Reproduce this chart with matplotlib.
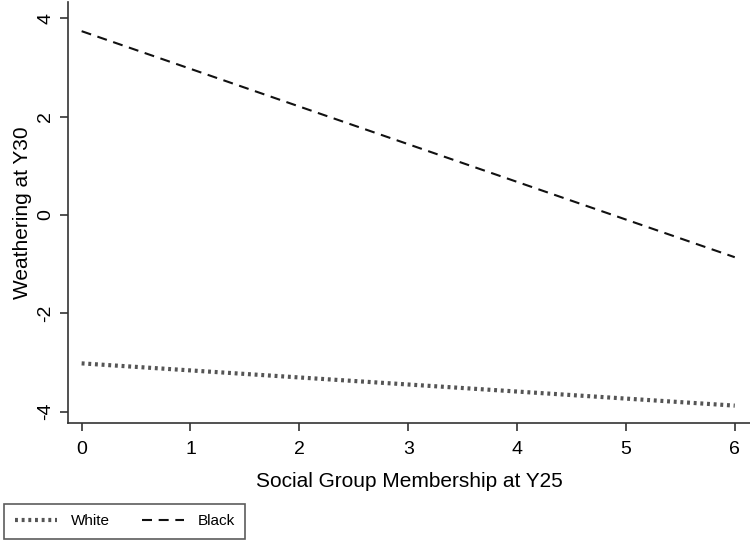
import matplotlib
matplotlib.use("Agg")
import matplotlib.pyplot as plt
import numpy as np

plt.rcParams['font.family'] = ['Liberation Sans', 'DejaVu Sans']

# Data
social_group = [0, 6]
white_values = [-3.02, -3.88]
black_values = [3.74, -0.86]
x_ticks = [0, 1, 2, 3, 4, 5, 6]
y_ticks = [-4, -2, 0, 2, 4]
x_label = "Social Group Membership at Y25"
y_label = "Weathering at Y30"
series_names = ["White", "Black"]

fig = plt.figure(figsize=(7.5, 5.43), dpi=100)
ax = fig.add_axes([0.091, 0.2204, 0.909, 0.7756])

ax.plot(social_group, white_values, color='#555555', lw=3.0,
        linestyle=(0, (0.7, 0.9)), label=series_names[0],
        dash_capstyle='butt')
ax.plot(social_group, black_values, color='#111111', lw=1.5,
        linestyle=(0, (4.8, 3.2)), label=series_names[1], dash_capstyle='butt')

ax.set_xlim(-0.123, 6.14)
ax.set_ylim(-4.24, 4.33)
ax.set_xticks(x_ticks)
ax.set_yticks(y_ticks)
ax.set_yticklabels([str(v) for v in y_ticks], rotation=90, va='center')
ax.tick_params(axis='both', labelsize=14, length=6, width=1.2, color='#333333')
ax.tick_params(axis='x', pad=7)
ax.tick_params(axis='y', pad=4)

for s in ['top', 'right']:
    ax.spines[s].set_visible(False)
for s in ['left', 'bottom']:
    ax.spines[s].set_linewidth(1.2)
    ax.spines[s].set_color('#333333')

ax.set_xlabel(x_label, fontsize=15, labelpad=10)
ax.set_ylabel(y_label, fontsize=15, labelpad=4)

leg = fig.legend(loc='lower left', bbox_to_anchor=(4/750, 1 - 539/543), ncol=2,
                 fontsize=11, frameon=True, fancybox=False, edgecolor='#333333',
                 handlelength=2.75, columnspacing=2.1, borderpad=0.7,
                 handletextpad=0.9, borderaxespad=0)
leg.get_frame().set_linewidth(1.2)

fig.savefig("out.png", dpi=100)
